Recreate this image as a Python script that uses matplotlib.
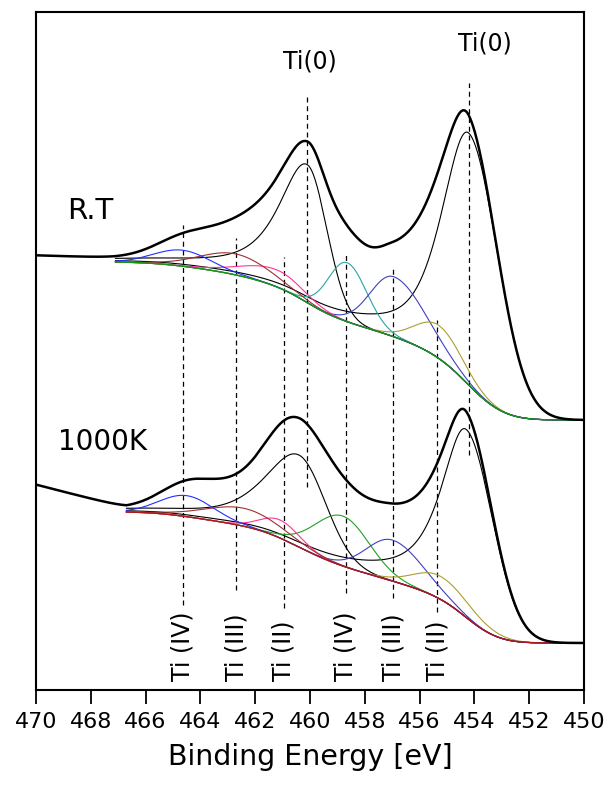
import numpy as np
import matplotlib
matplotlib.use("Agg")
import matplotlib.pyplot as plt

# peak parameters (energy in eV, heights in plot units)
# order: Ti(0) 2p3/2, Ti(0) 2p1/2, Ti(IV) 3/2, Ti(III) 3/2, Ti(II) 3/2, Ti(II) 1/2, Ti(III) 1/2, Ti(IV) 1/2
rt_center = [454.2, 460.1, 458.65, 456.95, 455.3, 461.2, 462.7, 464.65]
rt_height = [252, 138, 59, 60, 33, 17, 21, 16]
rt_wl = [1.17, 1.25, 0.8, 1.0, 1.0, 1.5, 1.5, 1.2]
rt_wr = [1.25, 0.85, 0.85, 1.35, 1.0, 1.1, 1.5, 1.2]
rt_eta = [0.63, 0.85, 0, 0, 0, 0, 0, 0]
rt_colors = ["black", "black", "#2aa5a5", "#4040c0", "#a8a030", "#ff3399", "#a03030", "#2030ff"]

hk_center = [454.3, 460.4, 458.8, 457.0, 455.25, 461.1, 462.4, 464.5]
hk_height = [188, 92, 50, 41, 23, 18, 18, 21]
hk_wl = [1.1, 1.5, 1.2, 1.1, 1.1, 0.85, 1.6, 1.15]
hk_wr = [1.15, 1.15, 1.15, 1.3, 1.3, 0.85, 1.6, 1.15]
hk_eta = [0.85, 0.75, 0, 0, 0, 0, 0, 0]
hk_colors = ["black", "black", "#22a022", "#4040c0", "#a8a030", "#ff3399", "#a03030", "#2030ff"]

# background ends (low BE side, high BE side) and fit range limit
rt_bg = (270, 428)
hk_bg = (47, 178)
rt_fit_max = 467.1
hk_fit_max = 466.7
rt_left_rise = 4
hk_left_rise = 25

# marker lines and labels
ti0_E = [460.1, 454.2]
ti0_top = [595, 607]
ti0_bot = [203, 235]
ti0_label_E = [460.0, 453.6]
ti0_label_y = [628, 646]
state_E = [464.65, 462.7, 460.95, 458.7, 456.97, 455.35]
state_top = [465, 452, 433, 438, 422, 370]
state_bot = [85, 100, 82, 97, 92, 78]
state_labels = ["Ti (IV)", "Ti (III)", "Ti (II)", "Ti (IV)", "Ti (III)", "Ti (II)"]

E = np.arange(450.0, 470.0001, 0.02)


def peak(E, c, h, wl, wr, eta):
    w = np.where(E > c, wl, wr)
    e = np.where(E > c, eta, 0.0)
    u = (E - c) / w
    return h * (e / (1 + u ** 2) + (1 - e) * np.exp(-np.log(2) * u ** 2))


def spectrum(center, height, wl, wr, eta, bg, fit_max, rise):
    comps = [peak(E, *p) for p in zip(center, height, wl, wr, eta)]
    total = np.sum(comps, axis=0)
    # Shirley-type background from the running peak area
    cum = np.concatenate([[0], np.cumsum((total[1:] + total[:-1]) / 2 * np.diff(E))])
    cmax = np.interp(fit_max, E, cum)
    base = bg[0] + (bg[1] - bg[0]) * np.minimum(cum / cmax, 1.0)
    ramp = np.where(E > fit_max, rise * (E - fit_max) / (470 - fit_max), 0)
    return comps, base, base + total + ramp


fig = plt.figure(figsize=(6.08, 7.93), dpi=100)
ax = fig.add_axes([36 / 608, 1 - 690 / 793, 548 / 608, 678 / 793])

for args, colors, fit_max, bgcol in [
    ((rt_center, rt_height, rt_wl, rt_wr, rt_eta, rt_bg, rt_fit_max, rt_left_rise), rt_colors, rt_fit_max, "#109a10"),
    ((hk_center, hk_height, hk_wl, hk_wr, hk_eta, hk_bg, hk_fit_max, hk_left_rise), hk_colors, hk_fit_max, "#b01818"),
]:
    comps, base, data = spectrum(*args)
    ax.plot(E, data, color="black", lw=1.8, zorder=3)
    m = E <= fit_max
    for c, col in zip(comps, colors):
        ax.plot(E[m], (base + c)[m], color=col, lw=0.8, zorder=2)
    ax.plot(E[m], base[m], color=bgcol, lw=1.0, zorder=2.5)

for x, y0, y1 in zip(ti0_E, ti0_bot, ti0_top):
    ax.plot([x, x], [y0, y1], color="black", lw=0.9, ls=(0, (4, 3)), zorder=1)
for x, y0, y1 in zip(state_E, state_bot, state_top):
    ax.plot([x, x], [y0, y1], color="black", lw=0.9, ls=(0, (4, 3)), zorder=1)

for x, y in zip(ti0_label_E, ti0_label_y):
    ax.text(x, y, "Ti(0)", ha="center", va="center", fontsize=17)
for x, lab in zip(state_E, state_labels):
    ax.text(x, 9, lab, rotation=90, ha="center", va="bottom", fontsize=17)

ax.text(468.87, 479, "R.T", ha="left", va="center", fontsize=21)
ax.text(469.2, 248, "1000K", ha="left", va="center", fontsize=20)

ax.set_xlim(470, 450)
ax.set_ylim(0, 678)
ax.set_xticks(np.arange(470, 449, -2))
ax.set_yticks([])
ax.tick_params(axis="x", direction="out", length=10, width=1.3, labelsize=16, pad=6)
for s in ax.spines.values():
    s.set_linewidth(1.5)
ax.set_xlabel("Binding Energy [eV]", fontsize=20.5, labelpad=8)

fig.savefig("out.png", dpi=100)
